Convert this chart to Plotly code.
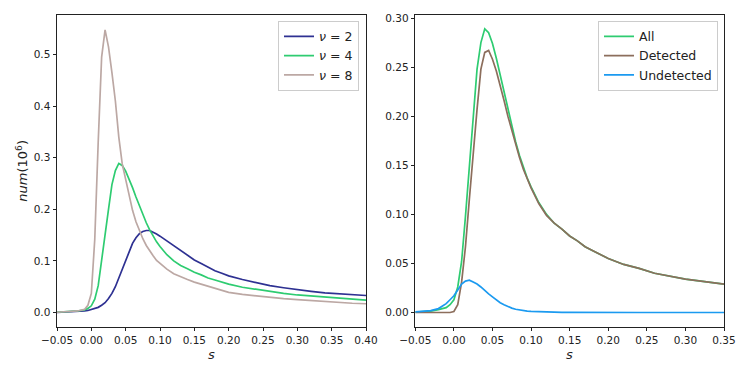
import plotly.graph_objects as go

# ---- data ----
s = [-0.05, -0.04, -0.03, -0.02, -0.01, -0.005, 0.0, 0.005, 0.01, 0.015, 0.02, 0.025,
     0.03, 0.035, 0.04, 0.045, 0.05, 0.055, 0.06, 0.065, 0.07, 0.075, 0.08, 0.085,
     0.09, 0.095, 0.10, 0.11, 0.12, 0.13, 0.14, 0.15, 0.16, 0.17, 0.18, 0.19, 0.20,
     0.22, 0.24, 0.26, 0.28, 0.30, 0.32, 0.34, 0.36, 0.38, 0.40]

nu2 = [0.000, 0.0005, 0.001, 0.002, 0.003, 0.004, 0.006, 0.008, 0.010, 0.014, 0.019, 0.027,
       0.037, 0.050, 0.067, 0.085, 0.102, 0.119, 0.134, 0.145, 0.153, 0.157, 0.159, 0.159,
       0.156, 0.152, 0.148, 0.139, 0.130, 0.121, 0.111, 0.102, 0.095, 0.088, 0.081, 0.076, 0.071,
       0.064, 0.058, 0.052, 0.048, 0.044, 0.041, 0.038, 0.036, 0.034, 0.033]

all_counts = [0.0005, 0.001, 0.0015, 0.003, 0.005, 0.008, 0.013, 0.026, 0.052, 0.098, 0.148, 0.200,
              0.248, 0.275, 0.289, 0.285, 0.274, 0.259, 0.242, 0.224, 0.206, 0.190, 0.174, 0.160,
              0.148, 0.137, 0.128, 0.112, 0.100, 0.091, 0.085, 0.078, 0.073, 0.067, 0.063, 0.059, 0.055,
              0.049, 0.045, 0.040, 0.037, 0.034, 0.032, 0.030, 0.028, 0.026, 0.024]
nu4 = all_counts

nu8 = [0.0005, 0.001, 0.002, 0.003, 0.006, 0.014, 0.037, 0.142, 0.330, 0.495, 0.548, 0.515,
       0.465, 0.410, 0.340, 0.288, 0.258, 0.228, 0.198, 0.176, 0.158, 0.143, 0.130, 0.119,
       0.110, 0.101, 0.095, 0.084, 0.075, 0.069, 0.064, 0.059, 0.055, 0.051, 0.046, 0.042, 0.039,
       0.035, 0.032, 0.029, 0.027, 0.025, 0.023, 0.021, 0.020, 0.018, 0.017]

undetected = [0.0006, 0.001, 0.002, 0.004, 0.009, 0.013, 0.017, 0.023, 0.029, 0.032, 0.033, 0.031,
              0.029, 0.026, 0.022, 0.019, 0.016, 0.013, 0.010, 0.008, 0.006, 0.0045, 0.0033, 0.0025,
              0.0019, 0.0015, 0.0012, 0.0008, 0.0005, 0.0003, 0.0002, 0.0002, 0.0001, 0.0001, 0.0001, 0.0001, 0.0001,
              0.0, 0.0, 0.0, 0.0, 0.0, 0.0, 0.0, 0.0, 0.0, 0.0]

detected = [0.0, 0.0, 0.0, 0.0, 0.0, 0.0, 0.001, 0.008, 0.031, 0.067, 0.115, 0.165,
            0.207, 0.248, 0.265, 0.267, 0.258, 0.246, 0.232, 0.216, 0.200, 0.186, 0.171, 0.158,
            0.146, 0.136, 0.127, 0.111, 0.099, 0.091, 0.085, 0.078, 0.073, 0.067, 0.063, 0.059, 0.055,
            0.049, 0.045, 0.040, 0.037, 0.034, 0.032, 0.030, 0.028, 0.026, 0.024]

x_ticks_left = [-0.05, 0.0, 0.05, 0.10, 0.15, 0.20, 0.25, 0.30, 0.35, 0.40]
y_ticks_left = [0.0, 0.1, 0.2, 0.3, 0.4, 0.5]
x_ticks_right = [-0.05, 0.0, 0.05, 0.10, 0.15, 0.20, 0.25, 0.30, 0.35]
y_ticks_right = [0.0, 0.05, 0.10, 0.15, 0.20, 0.25, 0.30]

C_NU2 = "#2e3192"
C_GREEN = "#2ecc71"
C_NU8 = "#bca8a4"
C_DET = "#8c6e5c"
C_UND = "#1b9af0"

W, H = 747, 374
FONT = "DejaVu Sans"

fig = go.Figure()

def line(x, y, name, color, xa, ya, legend):
    fig.add_trace(go.Scatter(x=x, y=y, mode="lines", name=name,
                             line=dict(color=color, width=1.7),
                             xaxis=xa, yaxis=ya, legend=legend))

line(s, nu2, "<i>ν</i> = 2", C_NU2, "x", "y", "legend")
line(s, nu4, "<i>ν</i> = 4", C_GREEN, "x", "y", "legend")
line(s, nu8, "<i>ν</i> = 8", C_NU8, "x", "y", "legend")
line(s, all_counts, "All", C_GREEN, "x2", "y2", "legend2")
line(s, detected, "Detected", C_DET, "x2", "y2", "legend2")
line(s, undetected, "Undetected", C_UND, "x2", "y2", "legend2")

axis_common = dict(showline=True, mirror=True, linecolor="#222222", linewidth=1,
                   ticks="outside", ticklen=3.5, tickwidth=1, tickcolor="#222222",
                   showgrid=False, zeroline=False, automargin=False,
                   tickfont=dict(family=FONT, size=10.5, color="#222222"))

yb, yt = 1 - 326.7 / H, 1 - 14.6 / H
fig.update_layout(
    width=W, height=H,
    margin=dict(l=0, r=0, t=0, b=0),
    paper_bgcolor="white", plot_bgcolor="white",
    font=dict(family=FONT, color="#222222"),
    xaxis=dict(domain=[57 / W, 366 / W], range=[-0.05, 0.40], tickvals=x_ticks_left,
               tickformat=".2f", anchor="y", **axis_common),
    yaxis=dict(domain=[yb, yt], range=[-0.0275, 0.5775], tickvals=y_ticks_left,
               tickformat=".1f", anchor="x", **axis_common),
    xaxis2=dict(domain=[415.3 / W, 724 / W], range=[-0.05, 0.35], tickvals=x_ticks_right,
                tickformat=".2f", anchor="y2", **axis_common),
    yaxis2=dict(domain=[yb, yt], range=[-0.01445, 0.3035], tickvals=y_ticks_right,
                tickformat=".2f", anchor="x2", **axis_common),
    legend=dict(x=359 / W, y=1 - 20.7 / H, xanchor="right", yanchor="top",
                bgcolor="rgba(255,255,255,0.8)", bordercolor="#cccccc", borderwidth=1,
                font=dict(family=FONT, size=12.5, color="#222222"), tracegroupgap=0),
    legend2=dict(x=718 / W, y=1 - 20.7 / H, xanchor="right", yanchor="top",
                 bgcolor="rgba(255,255,255,0.8)", bordercolor="#cccccc", borderwidth=1,
                 font=dict(family=FONT, size=12.5, color="#222222"), tracegroupgap=0),
    showlegend=True,
)

fig.add_annotation(text="<i>s</i>", x=(57 + 366) / 2 / W, y=1 - 354 / H, xref="paper", yref="paper",
                   showarrow=False, xanchor="center", yanchor="middle",
                   font=dict(family=FONT, size=13, color="#222222"))
fig.add_annotation(text="<i>s</i>", x=(415.3 + 724) / 2 / W, y=1 - 354 / H, xref="paper", yref="paper",
                   showarrow=False, xanchor="center", yanchor="middle",
                   font=dict(family=FONT, size=13, color="#222222"))
fig.add_annotation(text="<i>num</i>(10<sup>6</sup>)", x=21.7 / W, y=1 - 171 / H, xref="paper", yref="paper",
                   showarrow=False, xanchor="center", yanchor="middle", textangle=-90,
                   font=dict(family=FONT, size=13, color="#222222"))

fig.write_html("out.html", config={"displayModeBar": False},
               post_script="document.body.style.margin='0';")
